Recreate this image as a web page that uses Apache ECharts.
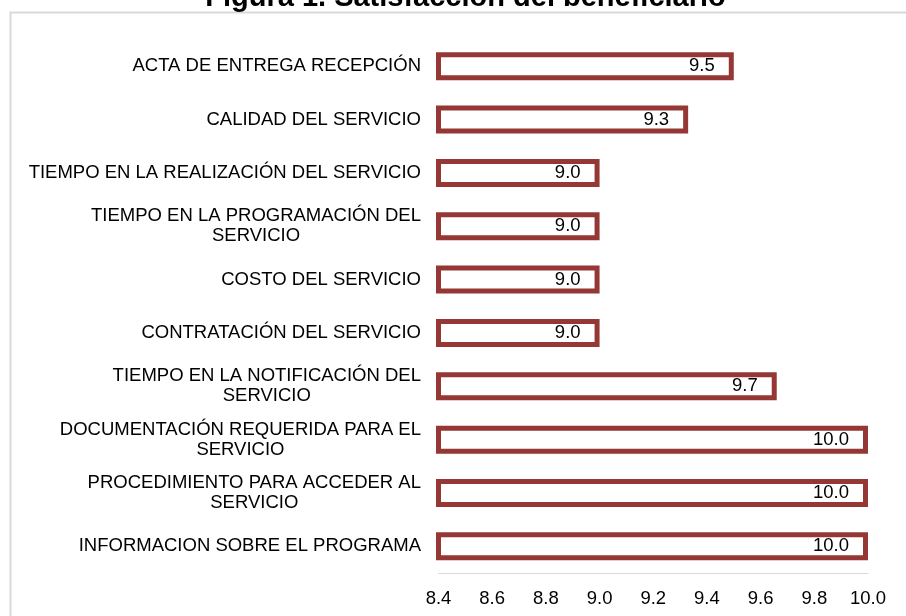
<!DOCTYPE html>
<html>
<head>
<meta charset="utf-8">
<script src="https://cdn.jsdelivr.net/npm/echarts@6/dist/echarts.min.js"></script>
<style>
html,body{margin:0;padding:0;background:#fff;}
#chart{width:906px;height:616px;}
</style>
</head>
<body>
<div id="chart"></div>
<script>
const titleText = 'Figura 1. Satisfacción del beneficiario';
const categories = [
  'ACTA DE ENTREGA RECEPCIÓN',
  'CALIDAD DEL SERVICIO',
  'TIEMPO EN LA REALIZACIÓN DEL SERVICIO',
  'TIEMPO EN LA PROGRAMACIÓN DEL\nSERVICIO',
  'COSTO DEL SERVICIO',
  'CONTRATACIÓN DEL SERVICIO',
  'TIEMPO EN LA NOTIFICACIÓN DEL\nSERVICIO',
  'DOCUMENTACIÓN REQUERIDA PARA EL\nSERVICIO',
  'PROCEDIMIENTO PARA ACCEDER AL\nSERVICIO',
  'INFORMACION SOBRE EL PROGRAMA'
];
const values = [9.5, 9.33, 9.0, 9.0, 9.0, 9.0, 9.66, 10.0, 10.0, 10.0];
const axisMin = 8.4;
const axisMax = 10.0;
const axisStep = 0.2;

const FONT = '"Liberation Sans", Arial, sans-serif';
const chart = echarts.init(document.getElementById('chart'), null, {renderer: 'canvas'});
chart.setOption({
  animation: false,
  backgroundColor: '#fff',
  graphic: [
    {type: 'rect', left: 8, top: 10, shape: {width: 1000, height: 1000},
     style: {fill: 'none', stroke: '#d9d9d9', lineWidth: 2}, silent: true, z: 0},
    {type: 'text', x: 465.5, y: -2.5,
     style: {text: titleText, font: 'bold 29px ' + FONT, fill: '#000', align: 'center', verticalAlign: 'middle'}, z: 1}
  ],
  grid: {left: 438.5, right: 38, top: 39.5, bottom: 43, containLabel: false},
  xAxis: {
    type: 'value', min: axisMin, max: axisMax, interval: axisStep,
    axisLine: {show: true, lineStyle: {color: '#d9d9d9', width: 1}},
    axisTick: {show: false},
    splitLine: {show: false},
    axisLabel: {formatter: v => v.toFixed(1), fontSize: 18.5, fontFamily: FONT, color: '#000', margin: 16}
  },
  yAxis: {
    type: 'category', inverse: true, data: categories,
    axisLine: {show: false}, axisTick: {show: false},
    axisLabel: {
      margin: 17.5, color: '#000', fontSize: 18.5, fontFamily: FONT, lineHeight: 20,
      formatter: v => v.split('\n').map(l => '{c|' + l + '}').join('\n'),
      rich: {c: {align: 'center', fontSize: 18.5, fontFamily: FONT, color: '#000', lineHeight: 20}}
    }
  },
  series: [{
    type: 'bar', data: values, barWidth: 28,
    itemStyle: {color: '#fff', borderColor: '#953735', borderWidth: 5},
    label: {show: true, position: 'insideRight', distance: 19, formatter: p => p.value.toFixed(1),
            color: '#000', fontSize: 18.5, fontFamily: FONT}
  }]
});
</script>
</body>
</html>
